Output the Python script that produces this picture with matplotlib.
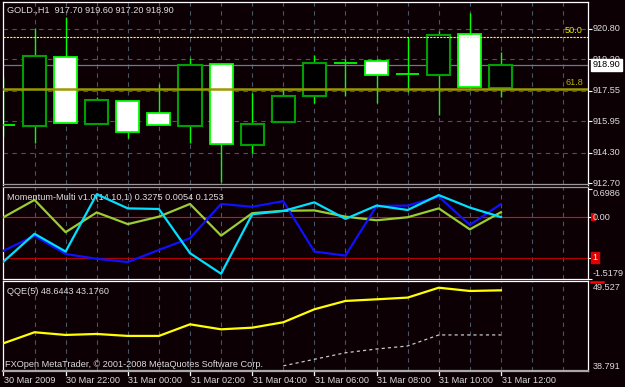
import numpy as np
import matplotlib
matplotlib.use("Agg")
import matplotlib.pyplot as plt
import matplotlib.transforms as mtrans
from matplotlib.patches import Rectangle

## Donnees ##
bar_idx = np.arange(17)
time_labels = ["30 Mar 2009", "30 Mar 22:00", "31 Mar 00:00", "31 Mar 02:00", "31 Mar 04:00",
               "31 Mar 06:00", "31 Mar 08:00", "31 Mar 10:00", "31 Mar 12:00"]

opens  = [915.78, 915.70, 919.33, 915.81, 917.00, 916.37, 915.70, 918.93, 914.69,
          915.91, 917.27, 919.00, 919.09, 918.40, 918.36, 920.51, 917.70]
highs  = [918.28, 920.85, 921.40, 917.24, 917.00, 917.89, 919.25, 918.93, 917.41,
          917.68, 919.42, 919.20, 919.20, 920.35, 920.69, 921.64, 919.60]
lows   = [915.14, 914.80, 915.85, 915.81, 915.06, 915.77, 914.80, 912.78, 914.30,
          915.91, 916.89, 917.25, 916.89, 917.50, 916.28, 917.59, 917.20]
closes = [915.72, 919.38, 915.88, 917.06, 915.37, 915.77, 918.88, 914.74, 915.82,
          917.26, 918.99, 919.05, 918.36, 918.42, 920.45, 917.76, 918.90]

price_ticks = [912.70, 914.30, 915.95, 917.55, 919.20, 920.80]
fibo_50 = 920.35
fibo_618 = 917.64
last_price = 918.90

mom_blue = [-0.83, -0.46, -0.91, -1.03, -1.11, -0.81, -0.52, 0.33, 0.26, 0.40,
            -0.85, -0.95, 0.28, 0.29, 0.51, -0.19, 0.3275]
mom_cyan = [-1.10, -0.41, -0.85, 0.57, 0.22, 0.205, -0.89, -1.40, 0.075, 0.155,
            0.37, -0.04, 0.29, 0.18, 0.55, 0.24, 0.0054]
mom_yg   = [0.0, 0.43, -0.37, 0.12, -0.17, 0.015, 0.33, -0.455, 0.10, 0.16,
            0.17, 0.015, -0.075, 0.0, 0.22, -0.30, 0.1253]
mom_max, mom_min = 0.6986, -1.5179

qqe_main = [42.16, 43.51, 43.18, 43.30, 43.06, 43.06, 44.48, 43.87, 44.07, 44.73,
            46.32, 47.34, 47.54, 47.75, 48.96, 48.56, 48.64]
qqe_slow_idx = np.arange(9, 17)
qqe_slow = [39.4, 40.2, 41.0, 41.46, 41.83, 43.18, 43.18, 43.18]
qqe_max, qqe_min = 49.527, 38.791

## Style ##
W, H = 625, 387
bg = "#0d0005"
grid_c = "#465663"
txt_c = "#dcdcdc"
fnt = "Liberation Sans"
fs = 6.6

def rect(x0, y0, x1, y1):
    return [x0 / W, 1 - y1 / H, (x1 - x0) / W, (y1 - y0) / H]

fig = plt.figure(figsize=(W / 100, H / 100), dpi=100, facecolor=bg)
ax1 = fig.add_axes(rect(2.5, 2, 588, 184.5))
ax2 = fig.add_axes(rect(2.5, 187, 588, 278.5))
ax3 = fig.add_axes(rect(2.5, 281, 588, 370.5))

xlim = (-0.03, 18.8)
for ax in (ax1, ax2, ax3):
    ax.set_facecolor(bg)
    ax.set_xlim(*xlim)
    for xv in range(1, 19):
        ax.axvline(xv, color=grid_c, lw=0.8, ls=(0, (4, 4)), zorder=0)
    ax.tick_params(axis="x", bottom=False, labelbottom=False)
    ax.tick_params(axis="y", left=False, labelleft=False, right=True, labelright=False,
                   color="white", length=3, width=0.8)
    for s in ax.spines.values():
        s.set_color("white")
        s.set_linewidth(0.9)

ax1.spines["bottom"].set_color("#9a9a9a")
ax2.spines["top"].set_color("#9a9a9a")
ax3.spines["bottom"].set_color("#a8a8a8")
ax3.spines["bottom"].set_linewidth(1.6)

# -------------------------------------------------------- #
# Bougies
ax1.set_ylim(912.64, 922.20)
ax1.set_yticks(price_ticks)
for yv in price_ticks[1:]:
    ax1.axhline(yv, color=grid_c, lw=0.8, ls=(0, (4, 4)), zorder=0)

w = 0.74
for i in bar_idx:
    o, h, l, c = opens[i], highs[i], lows[i], closes[i]
    top, bot = max(o, c), min(o, c)
    ax1.vlines(i, bot, l, color="#00ff00", lw=1.0, zorder=2)
    ax1.vlines(i, top, h, color="#00ff00", lw=1.0, zorder=2)
    if abs(c - o) < 0.08:
        ax1.hlines((o + c) / 2, i - w / 2, i + w / 2, color="#00ff00", lw=1.3, zorder=3)
    elif c > o:
        ax1.add_patch(Rectangle((i - w / 2, bot), w, top - bot, facecolor="black",
                                edgecolor="#00a000", lw=1.5, zorder=3))
    else:
        ax1.add_patch(Rectangle((i - w / 2, bot), w, top - bot, facecolor="white",
                                edgecolor="#00ff00", lw=1.3, zorder=3))

ax1.axhline(fibo_50, color="#ffff00", lw=0.8, ls=(0, (2, 1)), zorder=4)
ax1.axhline(fibo_618, color="#9a9a00", lw=1.8, zorder=4)
ax1.axhline(last_price, color="#6a7a8a", lw=0.9, zorder=1)
ax1.text(18.35, fibo_50 + 0.12, "50.0", color="#e6e600", fontsize=fs, family=fnt,
         ha="center", va="bottom")
ax1.text(18.35, fibo_618 + 0.12, "61.8", color="#b0b000", fontsize=fs, family=fnt,
         ha="center", va="bottom")

tr1 = mtrans.blended_transform_factory(ax1.transAxes, ax1.transData)
for yv in price_ticks:
    ax1.text(1.008, yv, "%.2f" % yv, transform=tr1, color=txt_c, fontsize=fs,
             family=fnt, ha="left", va="center", clip_on=False)
ax1.text(1.008, last_price, "%.2f" % last_price, transform=tr1, color="black",
         fontsize=fs, family=fnt, ha="left", va="center", clip_on=False,
         bbox=dict(boxstyle="square,pad=0.15", fc="white", ec="white"))
ax1.text(0.007, 0.952, "GOLD.,H1  %.2f %.2f %.2f %.2f" % (opens[-1], highs[-1], lows[-1], closes[-1]),
         transform=ax1.transAxes, color=txt_c, fontsize=fs, family=fnt, va="center")

# -------------------------------------------------------- #
# Momentum-Multi
ax2.set_ylim(-1.515, 0.75)
ax2.set_yticks([mom_max, 0, -1, mom_min])
ax2.axhline(0, color="#ff0000", lw=0.8, zorder=1)
ax2.axhline(-1, color="#b00000", lw=0.8, zorder=1)
ax2.plot(bar_idx, mom_yg, color="#9acd32", lw=1.6, zorder=3)
ax2.plot(bar_idx, mom_blue, color="#1010ff", lw=1.6, zorder=4)
ax2.plot(bar_idx, mom_cyan, color="#00e0ff", lw=1.6, zorder=5)

tr2 = mtrans.blended_transform_factory(ax2.transAxes, ax2.transData)
ax2.add_patch(Rectangle((1.0055, -0.1), 0.0079, 0.2, transform=tr2, facecolor="#e00000",
                        edgecolor="none", clip_on=False, zorder=5))
ax2.text(1.008, mom_max, "%.4f" % mom_max, transform=tr2, color=txt_c, fontsize=fs,
         family=fnt, ha="left", va="top", clip_on=False)
ax2.text(1.008, mom_min, "%.4f" % mom_min, transform=tr2, color=txt_c, fontsize=fs,
         family=fnt, ha="left", va="bottom", clip_on=False)
ax2.text(1.008, 0, "0.00", transform=tr2, color=txt_c, fontsize=fs,
         family=fnt, ha="left", va="center", clip_on=False, zorder=6)
ax2.text(1.008, -1, "1", transform=tr2, color="white", fontsize=fs, family=fnt,
         ha="left", va="center", clip_on=False,
         bbox=dict(boxstyle="square,pad=0.15", fc="#e00000", ec="#e00000"))
ax2.text(0.007, 0.88, "Momentum-Multi v1.0(14,10,1) %.4f %.4f %.4f" % (mom_blue[-1], mom_cyan[-1], mom_yg[-1]),
         transform=ax2.transAxes, color=txt_c, fontsize=fs, family=fnt, va="center")

# -------------------------------------------------------- #
# QQE
ax3.set_ylim(38.83, 49.78)
ax3.set_yticks([])
ax3.plot(bar_idx, qqe_main, color="#ffff00", lw=1.6, zorder=3)
ax3.plot(qqe_slow_idx, qqe_slow, color="#c8c8c8", lw=0.9, ls=(0, (2.5, 2.5)), zorder=2)

tr3 = mtrans.blended_transform_factory(ax3.transAxes, ax3.transData)
ax3.text(1.008, qqe_max, "%.3f" % qqe_max, transform=tr3, color=txt_c, fontsize=fs,
         family=fnt, ha="left", va="top", clip_on=False)
ax3.text(1.008, qqe_min, "%.3f" % qqe_min, transform=tr3, color=txt_c, fontsize=fs,
         family=fnt, ha="left", va="bottom", clip_on=False)
ax3.plot([1.005, 1.025], [qqe_max + 0.15, qqe_max + 0.15], transform=tr3,
         color="#ff0000", lw=1.8, clip_on=False)
ax3.text(0.007, 0.885, "QQE(5) %.4f %.4f" % (48.6443, 43.1760),
         transform=ax3.transAxes, color=txt_c, fontsize=fs, family=fnt, va="center")
ax3.text(0.004, 0.07, "FXOpen MetaTrader, \u00a9 2001-2008 MetaQuotes Software Corp.",
         transform=ax3.transAxes, color=txt_c, fontsize=fs, family=fnt, va="center")

# axe temps
trx = mtrans.blended_transform_factory(ax3.transData, ax3.transAxes)
for k, lab in enumerate(time_labels):
    xv = 2 * k
    ax3.plot([xv, xv], [0, -0.045], transform=trx, color="white", lw=0.9, clip_on=False)
    ax3.text(xv + 0.02, -0.11, lab, transform=trx, color=txt_c, fontsize=fs,
             family=fnt, ha="left", va="center", clip_on=False)

fig.savefig("out.png", dpi=100, facecolor=bg)
